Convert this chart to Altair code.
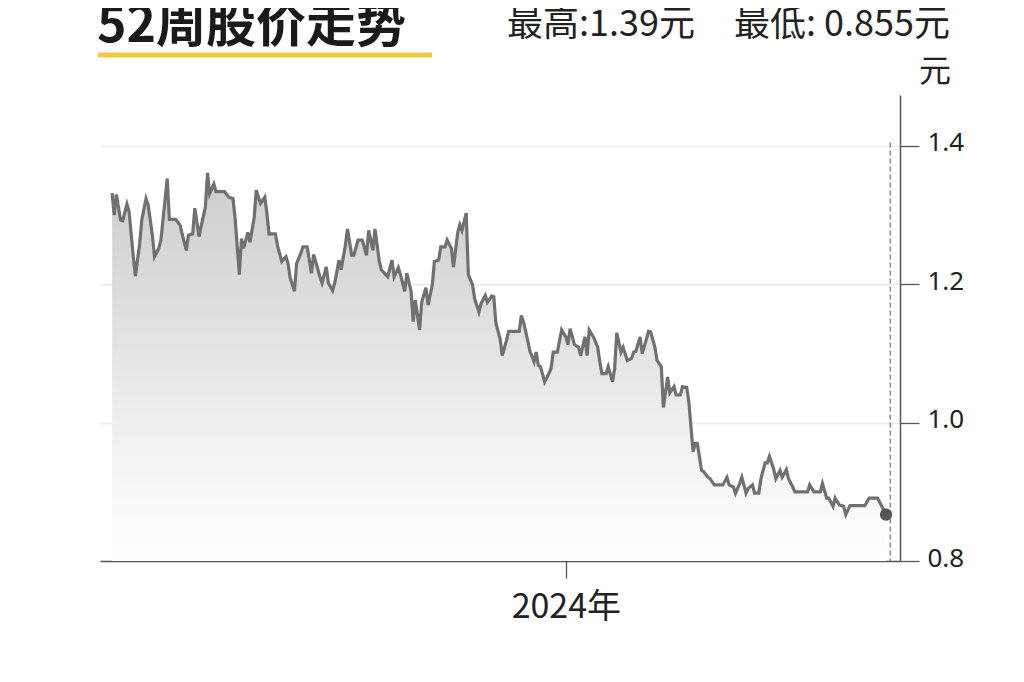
import altair as alt
import pandas as pd

# ---- data ----
start_date = "2023-05-31"
days = [1, 2, 3, 5, 6, 8, 9, 11, 12, 14, 15, 17, 18, 20, 21, 23, 24, 25, 27, 28,
        31, 33, 35, 36, 37, 39, 40, 42, 43, 45, 46, 47, 49, 50, 54, 56, 58, 59, 61, 62,
        63, 65, 66, 68, 69, 71, 73, 74, 75, 78, 79, 81, 83, 84, 85, 87, 88, 90, 91, 93,
        95, 96, 97, 99, 100, 102, 103, 105, 106, 108, 109, 111, 112, 114, 115, 117, 119, 121, 122, 124,
        125, 127, 128, 130, 131, 133, 134, 136, 137, 139, 140, 142, 143, 144, 146, 147, 149, 150, 152, 153,
        155, 156, 158, 159, 161, 162, 164, 165, 166, 168, 169, 171, 172, 174, 175, 177, 178, 180, 181, 182,
        184, 185, 187, 188, 193, 194, 195, 197, 198, 200, 201, 202, 203, 205, 206, 208, 209, 211, 213, 215,
        216, 217, 219, 221, 222, 224, 225, 226, 228, 230, 231, 232, 234, 235, 237, 238, 239, 241, 242, 244,
        246, 247, 248, 250, 251, 253, 254, 255, 257, 258, 260, 261, 263, 264, 266, 267, 269, 270, 272, 273,
        275, 276, 277, 279, 280, 282, 283, 285, 289, 291, 292, 294, 295, 297, 298, 300, 301, 303, 304, 306,
        307, 309, 310, 311, 313, 314, 316, 317, 319, 320, 322, 323, 329, 330, 332, 335, 336, 338, 339, 341,
        342, 344, 346, 347, 349, 356, 358, 362, 364, 366]
prices = [1.332, 1.300, 1.330, 1.293, 1.292, 1.316, 1.305, 1.240, 1.212, 1.259,
          1.293, 1.324, 1.315, 1.271, 1.240, 1.252, 1.264, 1.293, 1.353, 1.294,
          1.294, 1.286, 1.261, 1.249, 1.271, 1.273, 1.310, 1.269, 1.284, 1.312,
          1.361, 1.331, 1.345, 1.334, 1.334, 1.326, 1.324, 1.296, 1.214, 1.266,
          1.252, 1.275, 1.261, 1.296, 1.336, 1.317, 1.326, 1.303, 1.273, 1.273,
          1.256, 1.233, 1.240, 1.230, 1.209, 1.190, 1.230, 1.245, 1.254, 1.254,
          1.216, 1.243, 1.233, 1.211, 1.202, 1.225, 1.202, 1.191, 1.202, 1.235,
          1.221, 1.256, 1.280, 1.242, 1.242, 1.264, 1.264, 1.242, 1.278, 1.249,
          1.280, 1.233, 1.221, 1.214, 1.211, 1.235, 1.211, 1.224, 1.214, 1.190,
          1.216, 1.190, 1.146, 1.177, 1.134, 1.174, 1.195, 1.170, 1.199, 1.233,
          1.235, 1.254, 1.254, 1.264, 1.252, 1.225, 1.275, 1.286, 1.278, 1.303,
          1.214, 1.199, 1.179, 1.160, 1.172, 1.184, 1.174, 1.183, 1.182, 1.144,
          1.121, 1.097, 1.119, 1.132, 1.132, 1.155, 1.146, 1.119, 1.104, 1.088,
          1.102, 1.083, 1.081, 1.059, 1.065, 1.078, 1.102, 1.102, 1.134, 1.124,
          1.113, 1.136, 1.113, 1.109, 1.097, 1.124, 1.097, 1.134, 1.124, 1.109,
          1.088, 1.071, 1.071, 1.081, 1.059, 1.078, 1.130, 1.102, 1.109, 1.090,
          1.093, 1.102, 1.103, 1.124, 1.100, 1.121, 1.132, 1.131, 1.109, 1.090,
          1.081, 1.022, 1.066, 1.043, 1.052, 1.040, 1.040, 1.052, 1.051, 1.030,
          0.958, 0.970, 0.970, 0.931, 0.929, 0.921, 0.919, 0.910, 0.910, 0.921,
          0.910, 0.907, 0.898, 0.912, 0.921, 0.898, 0.905, 0.910, 0.898, 0.898,
          0.919, 0.942, 0.942, 0.951, 0.933, 0.919, 0.931, 0.921, 0.932, 0.919,
          0.907, 0.900, 0.900, 0.910, 0.900, 0.900, 0.912, 0.891, 0.891, 0.879,
          0.891, 0.881, 0.879, 0.867, 0.880, 0.880, 0.891, 0.891, 0.879, 0.867]
marker_day = [368]
marker_range = [1.405, 0.8]
y_ticks = [0.8, 1.0, 1.2, 1.4]
title_text = ["52周股价走势"]
high_text = ["最高:1.39元"]
low_text = ["最低: 0.855元"]
unit_text = ["元"]

base_ts = pd.Timestamp(start_date)
df = pd.DataFrame({
    "date": [base_ts + pd.Timedelta(days=d) for d in days],
    "price": prices,
})
last = df.tail(1)
marker = pd.DataFrame({
    "date": [base_ts + pd.Timedelta(days=marker_day[0])],
    "top": [marker_range[0]],
    "bottom": [marker_range[1]],
})

CJK = "Noto Sans CJK SC"

x_scale = alt.Scale(domain=[alt.DateTime(year=2023, month=5, date=26, hours=7),
                            alt.DateTime(year=2024, month=6, date=6, hours=14)])
y_scale = alt.Scale(domain=[0.8, 1.4737], nice=False, zero=False)

x_axis = alt.Axis(values=[alt.DateTime(year=2024, month=1, date=1)], format="%Y年",
                  title=None, grid=False, domainColor="#555555", domainWidth=1.5,
                  tickColor="#555555", tickSize=17, tickWidth=1.3,
                  labelFont=CJK, labelFontSize=34, labelColor="#222222", labelPadding=12)
y_axis = alt.Axis(orient="right", values=y_ticks, format=".1f", title=None,
                  grid=True, gridColor="#ebebeb", gridWidth=1.5,
                  domainColor="#555555", domainWidth=1.5, tickColor="#555555",
                  tickSize=19, tickWidth=1.3, labelFont="Noto Sans", labelFontSize=26,
                  labelColor="#222222", labelPadding=8, labelOffset=-3)

gradient = alt.Gradient(
    gradient="linear",
    stops=[alt.GradientStop(color="#cdcdcd", offset=0),
           alt.GradientStop(color="#dedede", offset=0.35),
           alt.GradientStop(color="#f2f2f2", offset=0.7),
           alt.GradientStop(color="#ffffff", offset=1)],
    x1=1, x2=1, y1=0, y2=1)

area = alt.Chart(df).mark_area(color=gradient, clip=True).encode(
    x=alt.X("date:T", scale=x_scale, axis=x_axis),
    y=alt.Y("price:Q", scale=y_scale, axis=y_axis),
    y2=alt.datum(0.8),
)
line = alt.Chart(df).mark_line(color="#707070", strokeWidth=3.2, strokeJoin="miter").encode(
    x="date:T", y="price:Q")
dash = alt.Chart(marker).mark_rule(color="#8a8a8a", strokeWidth=1.5, strokeDash=[5, 3]).encode(
    x="date:T", y="top:Q", y2="bottom:Q")
dot = alt.Chart(last).mark_circle(size=150, color="#555555", opacity=1).encode(
    x="date:T", y="price:Q")

title = alt.Chart(pd.DataFrame({"t": title_text})).mark_text(
    font=CJK, fontSize=50, fontWeight="bold", color="#1a1a1a", align="left", baseline="alphabetic"
).encode(text="t:N", x=alt.value(-3), y=alt.value(-53))
underline = alt.Chart(pd.DataFrame({"t": title_text})).mark_rule(
    color="#f3c843", strokeWidth=5
).encode(x=alt.value(-2), x2=alt.value(332), y=alt.value(-40))
high = alt.Chart(pd.DataFrame({"t": high_text})).mark_text(
    font=CJK, fontSize=36, color="#222222", align="left", baseline="alphabetic"
).encode(text="t:N", x=alt.value(407), y=alt.value(-59))
low = alt.Chart(pd.DataFrame({"t": low_text})).mark_text(
    font=CJK, fontSize=36, color="#222222", align="left", baseline="alphabetic"
).encode(text="t:N", x=alt.value(634), y=alt.value(-59))
unit = alt.Chart(pd.DataFrame({"t": unit_text})).mark_text(
    font=CJK, fontSize=32, color="#222222", align="left", baseline="alphabetic"
).encode(text="t:N", x=alt.value(819), y=alt.value(-13))

chart = alt.layer(area, line, dash, dot, title, underline, high, low, unit).properties(
    width=800, height=466,
    autosize=alt.AutoSizeParams(type="none"),
    padding={"left": 92, "top": 87, "right": 110, "bottom": 100},
    background="white",
).configure_view(stroke=None)

chart.save("out.html", embed_options={"renderer": "svg", "actions": False})
